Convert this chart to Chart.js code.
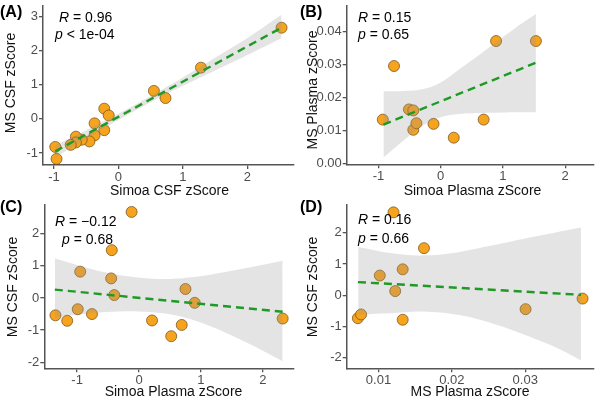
<!DOCTYPE html>
<html>
<head>
<meta charset="utf-8">
<script src="https://cdn.jsdelivr.net/npm/chart.js@4.4.1/dist/chart.umd.min.js"></script>
<style>
  body { margin: 0; background: #fff; }
  #wrap { position: relative; width: 600px; height: 398px; background: #fff; overflow: hidden;
          font-family: 'Liberation Sans', Arial, sans-serif; }
  canvas { position: absolute; }
  .tag { position: absolute; font-weight: bold; font-size: 16px; line-height: 16px; color: #000; }
  .stat { position: absolute; font-size: 14px; line-height: 16px; color: #000; white-space: nowrap; }
  .xt, .yt { position: absolute; font-size: 14px; line-height: 16px; color: #111; white-space: nowrap; }
  .xt { transform: translate(-50%, -50%); }
  .yt { transform: translate(-50%, -50%) rotate(-90deg); }
</style>
</head>
<body>
<div id="wrap">
  <canvas id="pA" width="300" height="199" style="left:0;top:0"></canvas>
  <canvas id="pB" width="300" height="199" style="left:300px;top:0"></canvas>
  <canvas id="pC" width="300" height="199" style="left:0;top:199px"></canvas>
  <canvas id="pD" width="300" height="199" style="left:300px;top:199px"></canvas>

  <div class="tag" style="left:0;top:4px">(A)</div>
  <div class="tag" style="left:300px;top:4px">(B)</div>
  <div class="tag" style="left:0;top:199px">(C)</div>
  <div class="tag" style="left:300px;top:199px">(D)</div>

  <div class="stat" style="left:59px;top:9px"><i>R</i> = 0.96</div>
  <div class="stat" style="left:55px;top:26px"><i>p</i> &lt; 1e-04</div>
  <div class="stat" style="left:358px;top:9px"><i>R</i> = 0.15</div>
  <div class="stat" style="left:358px;top:26px"><i>p</i> = 0.65</div>
  <div class="stat" style="left:55px;top:213px"><i>R</i> = −0.12</div>
  <div class="stat" style="left:62px;top:231px"><i>p</i> = 0.68</div>
  <div class="stat" style="left:358px;top:211px"><i>R</i> = 0.16</div>
  <div class="stat" style="left:358px;top:230px"><i>p</i> = 0.66</div>

  <div class="xt" style="left:169.5px;top:189.5px">Simoa CSF zScore</div>
  <div class="xt" style="left:472.5px;top:189.5px">Simoa Plasma zScore</div>
  <div class="xt" style="left:173.5px;top:390.5px">Simoa Plasma zScore</div>
  <div class="xt" style="left:470px;top:391px">MS Plasma zScore</div>
  <div class="yt" style="left:10px;top:83px">MS CSF zScore</div>
  <div class="yt" style="left:311.5px;top:89.5px">MS Plasma zScore</div>
  <div class="yt" style="left:11.5px;top:287px">MS CSF zScore</div>
  <div class="yt" style="left:312px;top:287px">MS CSF zScore</div>
</div>
<script>
// (A) Simoa CSF vs MS CSF
const aX = [2.53, 1.28, 0.55, 0.73, -0.22, -0.15, -0.37, -0.22, -0.37, -0.45, -0.57, -0.66, -0.66, -0.74, -0.98, -0.96];
const aY = [2.67, 1.50, 0.82, 0.61, 0.30, 0.10, -0.13, -0.33, -0.48, -0.66, -0.61, -0.52, -0.69, -0.76, -0.82, -1.17];
const aFitX = [-0.98, 2.53];
const aFitY = [-0.95, 2.67];
const aBandX = [-0.98, -0.5, 0, 0.5, 1, 1.5, 2, 2.53];
const aBandHi = [-0.77, -0.33, 0.15, 0.67, 1.21, 1.79, 2.37, 3.05];
const aBandLo = [-1.13, -0.58, -0.03, 0.49, 0.97, 1.42, 1.87, 2.36];
const aTicksX = [-1, 0, 1, 2];
const aTicksY = [-1, 0, 1, 2, 3];

// (B) Simoa Plasma vs MS Plasma
const bX = [-0.93, -0.75, -0.51, -0.44, -0.44, -0.39, -0.115, 0.21, 0.69, 0.89, 1.53];
const bY = [0.0133, 0.0296, 0.0164, 0.0161, 0.0102, 0.0122, 0.0120, 0.0078, 0.0133, 0.0372, 0.0372];
const bFitX = [-0.92, 1.53];
const bFitY = [0.0118, 0.0306];
const bBandX = [-0.92, -0.6, -0.3, 0, 0.3, 0.6, 0.9, 1.2, 1.53];
const bBandHi = [0.0219, 0.0220, 0.0225, 0.0246, 0.0286, 0.0327, 0.0370, 0.0412, 0.0454];
const bBandLo = [0.0018, 0.0069, 0.0113, 0.0140, 0.0150, 0.0153, 0.0154, 0.0155, 0.0155];
const bTicksX = [-1, 0, 1, 2];
const bTicksY = [0, 0.01, 0.02, 0.03, 0.04];

// (C) Simoa Plasma vs MS CSF
const cX = [-1.35, -1.16, -0.99, -0.95, -0.76, -0.45, -0.44, -0.40, -0.12, 0.21, 0.52, 0.69, 0.75, 0.90, 2.32];
const cY = [-0.54, -0.71, -0.35, 0.82, -0.50, 0.61, 1.49, 0.09, 2.68, -0.70, -1.19, -0.84, 0.28, -0.15, -0.64];
const cFitX = [-1.36, 2.32];
const cFitY = [0.26, -0.43];
const cBandX = [-1.36, -0.53, 0.17, 0.81, 1.61, 2.32];
const cBandHi = [1.23, 0.79, 0.61, 0.64, 0.89, 1.16];
const cBandLo = [-0.61, -0.44, -0.44, -0.65, -1.27, -1.97];
const cTicksX = [-1, 0, 1, 2];
const cTicksY = [-2, -1, 0, 1, 2];

// (D) MS Plasma vs MS CSF
const dX = [0.00719, 0.00763, 0.01018, 0.01205, 0.01228, 0.0133, 0.0133, 0.0162, 0.03004, 0.03781];
const dY = [-0.74, -0.62, 0.63, 2.66, 0.13, 0.83, -0.79, 1.51, -0.45, -0.11];
const dFitX = [0.0072, 0.0376];
const dFitY = [0.42, 0.01];
const dBandX = [0.00723, 0.01214, 0.01661, 0.02107, 0.02554, 0.03, 0.03446, 0.03759];
const dBandHi = [1.55, 1.34, 1.28, 1.39, 1.60, 1.82, 2.03, 2.17];
const dBandLo = [-0.62, -0.57, -0.53, -0.64, -0.91, -1.28, -1.71, -2.09];
const dTicksX = [0.01, 0.02, 0.03];
const dTicksY = [-2, -1, 0, 1, 2];

const axisCol = '#555555';
const tickCol = '#4d4d4d';
const font = "'Liberation Sans', Arial, sans-serif";

function pts(xs, ys) {
    return xs.map((x, i) => ({x: x, y: ys[i]}));
}

function makePanel(id, o) {
    const ctx = document.getElementById(id);
    const axis = (ticks, min, max, digits, horiz) => ({
        type: 'linear',
        min: min,
        max: max,
        afterBuildTicks: s => { s.ticks = ticks.map(v => ({value: v})); },
        afterFit: s => {
            // fixed axis box, no extra room for overflowing labels
            if (horiz) s.height = 199 - o.area.bottom;
            else s.width = o.area.left;
            s.paddingTop = 0; s.paddingBottom = 0; s.paddingLeft = 0; s.paddingRight = 0;
        },
        ticks: {
            color: tickCol,
            font: {family: font, size: 13},
            padding: horiz ? 0.5 : 1,
            callback: v => digits ? v.toFixed(digits) : String(v)
        },
        grid: {drawOnChartArea: false, drawTicks: true, tickLength: 4, color: axisCol, lineWidth: 1.3},
        border: {display: true, color: axisCol, width: 1.5},
        title: {display: false}
    });

    return new Chart(ctx, {
        type: 'scatter',
        data: {
            datasets: [
                {
                    data: pts(o.x, o.y),
                    pointRadius: 5.5,
                    backgroundColor: '#f6a31e',
                    borderColor: '#6e4a12',
                    borderWidth: 0.7,
                    order: 4
                },
                {
                    type: 'line',
                    data: pts(o.bandX, o.bandHi),
                    borderWidth: 0,
                    pointRadius: 0,
                    tension: 0.4,
                    fill: false,
                    order: 3
                },
                {
                    type: 'line',
                    data: pts(o.bandX, o.bandLo),
                    borderWidth: 0,
                    pointRadius: 0,
                    tension: 0.4,
                    fill: '-1',
                    backgroundColor: 'rgba(150,150,150,0.26)',
                    order: 2
                },
                {
                    type: 'line',
                    data: pts(o.fitX, o.fitY),
                    borderColor: '#1f9a24',
                    borderWidth: 2.4,
                    borderDash: [8, 5],
                    pointRadius: 0,
                    fill: false,
                    order: 1
                }
            ]
        },
        options: {
            responsive: false,
            animation: false,
            devicePixelRatio: 1,
            layout: {padding: {top: o.area.top, right: 300 - o.area.right, left: 0, bottom: 0}},
            plugins: {legend: {display: false}, tooltip: {enabled: false}},
            scales: {
                x: axis(o.ticksX, o.xMin, o.xMax, o.xDigits, true),
                y: axis(o.ticksY, o.yMin, o.yMax, o.yDigits, false)
            }
        }
    });
}

makePanel('pA', {
    x: aX, y: aY, fitX: aFitX, fitY: aFitY, bandX: aBandX, bandHi: aBandHi, bandLo: aBandLo,
    ticksX: aTicksX, ticksY: aTicksY, xMin: -1.17, xMax: 2.72, yMin: -1.35, yMax: 3.30,
    area: {left: 43, right: 296, top: 1.5, bottom: 165}
});
makePanel('pB', {
    x: bX, y: bY, fitX: bFitX, fitY: bFitY, bandX: bBandX, bandHi: bBandHi, bandLo: bBandLo,
    ticksX: bTicksX, ticksY: bTicksY, xMin: -1.51, xMax: 2.46, yMin: -0.0003, yMax: 0.0478,
    yDigits: 2,
    area: {left: 46.7, right: 298, top: 1.5, bottom: 164.3}
});
makePanel('pC', {
    x: cX, y: cY, fitX: cFitX, fitY: cFitY, bandX: cBandX, bandHi: cBandHi, bandLo: cBandLo,
    ticksX: cTicksX, ticksY: cTicksY, xMin: -1.53, xMax: 2.50, yMin: -2.19, yMax: 2.89,
    area: {left: 44.3, right: 296, top: 6, bottom: 169.3}
});
makePanel('pD', {
    x: dX, y: dY, fitX: dFitX, fitY: dFitY, bandX: dBandX, bandHi: dBandHi, bandLo: dBandLo,
    ticksX: dTicksX, ticksY: dTicksY, xMin: 0.00567, xMax: 0.03934, yMin: -2.35, yMax: 2.89,
    xDigits: 2,
    area: {left: 46.7, right: 298, top: 6, bottom: 169.3}
});
</script>
</body>
</html>
